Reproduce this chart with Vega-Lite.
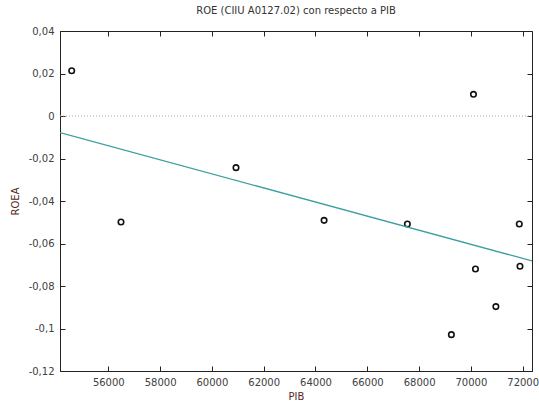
{
  "$schema": "https://vega.github.io/schema/vega-lite/v6.json",
  "width": 472,
  "height": 340,
  "autosize": {"type": "none"},
  "padding": {"left": 60, "top": 31, "right": 7, "bottom": 32},
  "title": {"text": "ROE (CIIU A0127.02) con respecto a PIB", "font": "DejaVu Sans", "fontSize": 10, "fontWeight": "normal", "color": "#333333", "offset": 10, "anchor": "middle"},
  "config": {
    "locale": {"number": {"decimal": ",", "thousands": "", "grouping": [3], "currency": ["", ""], "minus": "-"}},
    "view": {"stroke": "#222222", "strokeWidth": 1},
    "axis": {"grid": false, "labelFont": "DejaVu Sans", "labelFontSize": 10, "labelColor": "#404040", "titleFont": "DejaVu Sans", "titleFontSize": 10, "titleFontWeight": "normal", "titleColor": "#5a2626", "domainColor": "#222222", "tickColor": "#222222", "tickSize": -5, "labelPadding": 11}
  },
  "datasets": {
    "pts": [
      {"PIB": 54587, "ROEA": 0.0213},
      {"PIB": 56490, "ROEA": -0.0499},
      {"PIB": 60931, "ROEA": -0.0243},
      {"PIB": 64332, "ROEA": -0.0491},
      {"PIB": 67548, "ROEA": -0.0508},
      {"PIB": 69247, "ROEA": -0.1029},
      {"PIB": 70100, "ROEA": 0.0102},
      {"PIB": 70177, "ROEA": -0.0720},
      {"PIB": 70965, "ROEA": -0.0897},
      {"PIB": 71869, "ROEA": -0.0508},
      {"PIB": 71896, "ROEA": -0.0707}
    ],
    "trend": [
      {"PIB": 54135, "ROEA": -0.0078},
      {"PIB": 72360, "ROEA": -0.0682}
    ],
    "zero": [{"ROEA": 0}]
  },
  "layer": [
    {
      "data": {"name": "zero"},
      "mark": {"type": "rule", "color": "#a8a8a8", "strokeDash": [1, 2], "strokeWidth": 1},
      "encoding": {
        "y": {"field": "ROEA", "type": "quantitative", "scale": {"domain": [-0.12, 0.04], "nice": false}, "axis": null}
      }
    },
    {
      "data": {"name": "pts"},
      "mark": {"type": "point", "shape": "circle", "filled": false, "color": "#111111", "strokeWidth": 1.6, "size": 30, "opacity": 1},
      "encoding": {
        "x": {"field": "PIB", "type": "quantitative", "scale": {"domain": [54135, 72360], "nice": false, "zero": false}, "axis": {"orient": "bottom", "title": "PIB", "values": [56000, 58000, 60000, 62000, 64000, 66000, 68000, 70000, 72000], "format": "d", "titlePadding": 4}},
        "y": {"field": "ROEA", "type": "quantitative", "scale": {"domain": [-0.12, 0.04], "nice": false}, "axis": {"orient": "left", "title": "ROEA", "values": [-0.12, -0.1, -0.08, -0.06, -0.04, -0.02, 0, 0.02, 0.04], "format": ".2~f", "titlePadding": 8}}
      }
    },
    {
      "data": {"name": "trend"},
      "mark": {"type": "line", "color": "#3f9f9f", "strokeWidth": 1.4, "clip": true},
      "encoding": {
        "x": {"field": "PIB", "type": "quantitative", "scale": {"domain": [54135, 72360], "nice": false, "zero": false}, "axis": {"orient": "top", "title": null, "labels": false, "domain": false, "values": [56000, 58000, 60000, 62000, 64000, 66000, 68000, 70000, 72000]}},
        "y": {"field": "ROEA", "type": "quantitative", "scale": {"domain": [-0.12, 0.04], "nice": false}, "axis": {"orient": "right", "title": null, "labels": false, "domain": false, "values": [-0.12, -0.1, -0.08, -0.06, -0.04, -0.02, 0, 0.02, 0.04]}}
      }
    }
  ]
}
